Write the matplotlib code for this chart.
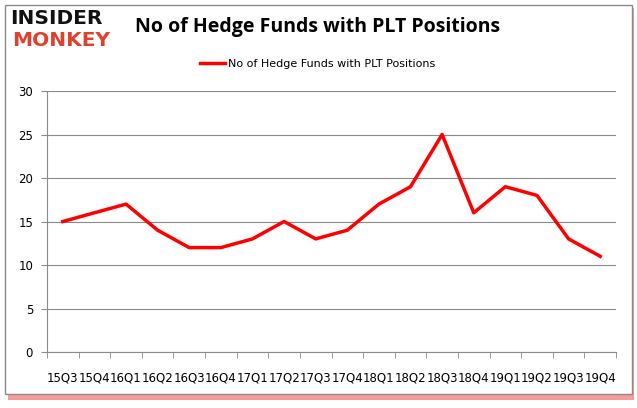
import matplotlib
matplotlib.use("Agg")
import matplotlib.pyplot as plt
from matplotlib.patches import Rectangle

quarters = ["15Q3", "15Q4", "16Q1", "16Q2", "16Q3", "16Q4", "17Q1", "17Q2", "17Q3",
            "17Q4", "18Q1", "18Q2", "18Q3", "18Q4", "19Q1", "19Q2", "19Q3", "19Q4"]
funds = [15, 16, 17, 14, 12, 12, 13, 15, 13, 14, 17, 19, 25, 16, 19, 18, 13, 11]
yticks = [0, 5, 10, 15, 20, 25, 30]
title = "No of Hedge Funds with PLT Positions"

W, H = 637, 408
fig = plt.figure(figsize=(W / 100, H / 100), dpi=100)
fig.patch.set_facecolor("white")

# frame with red shadow
fig.patches.append(Rectangle((8 / W, 1 - 400 / H), 626 / W, 392 / H, transform=fig.transFigure,
                             facecolor="#f02020", edgecolor="none", alpha=0.45, zorder=0))
fig.patches.append(Rectangle((5 / W, 1 - 394 / H), 627 / W, 389 / H, transform=fig.transFigure,
                             facecolor="white", edgecolor="#8a8a8a", linewidth=1.0, zorder=1))

ax = fig.add_axes([47 / W, 1 - 352 / H, (616 - 47) / W, (352 - 91) / H])
ax.set_zorder(2)
ax.patch.set_alpha(0)
x = list(range(len(quarters)))
line, = ax.plot(x, funds, color="#ff0000", linewidth=2.5, label="No of Hedge Funds with PLT Positions")
ax.set_xlim(-0.5, len(quarters) - 0.5)
ax.set_ylim(0, 30)
ax.set_yticks(yticks)
ax.set_yticklabels([str(v) for v in yticks], fontsize=8.5)
ax.set_xticks(x)
ax.set_xticklabels(quarters, fontsize=8.5)
ax.set_xticks([i - 0.5 for i in range(len(quarters) + 1)], minor=True)
ax.tick_params(axis="x", which="major", length=0, pad=14)
ax.tick_params(axis="x", which="minor", length=4, color="#8a8a8a")
ax.tick_params(axis="y", length=4, color="#8a8a8a", pad=6)
ax.grid(axis="y", color="#8a8a8a", linewidth=0.8)
ax.set_axisbelow(True)
for s in ["top", "right"]:
    ax.spines[s].set_visible(False)
for s in ["left", "bottom"]:
    ax.spines[s].set_color("#8a8a8a")

fig.legend(handles=[line], loc="center", bbox_to_anchor=(318 / W, 1 - 64 / H), frameon=False,
           fontsize=8, handlelength=2.2, handletextpad=0.3)

fig.text(318 / W, 1 - 27 / H, title, ha="center", va="center", fontsize=14, fontweight="bold",
         family="Open Sans", zorder=3)
fig.text(10 / W, 1 - 18 / H, "INSIDER", ha="left", va="center", fontsize=14.5, fontweight="black",
         family="DejaVu Sans", color="#111111", zorder=3)
fig.text(12 / W, 1 - 41 / H, "MONKEY", ha="left", va="center", fontsize=14.5, fontweight="black",
         family="DejaVu Sans", color="#e0402d", zorder=3)

fig.savefig("out.png", dpi=100)
